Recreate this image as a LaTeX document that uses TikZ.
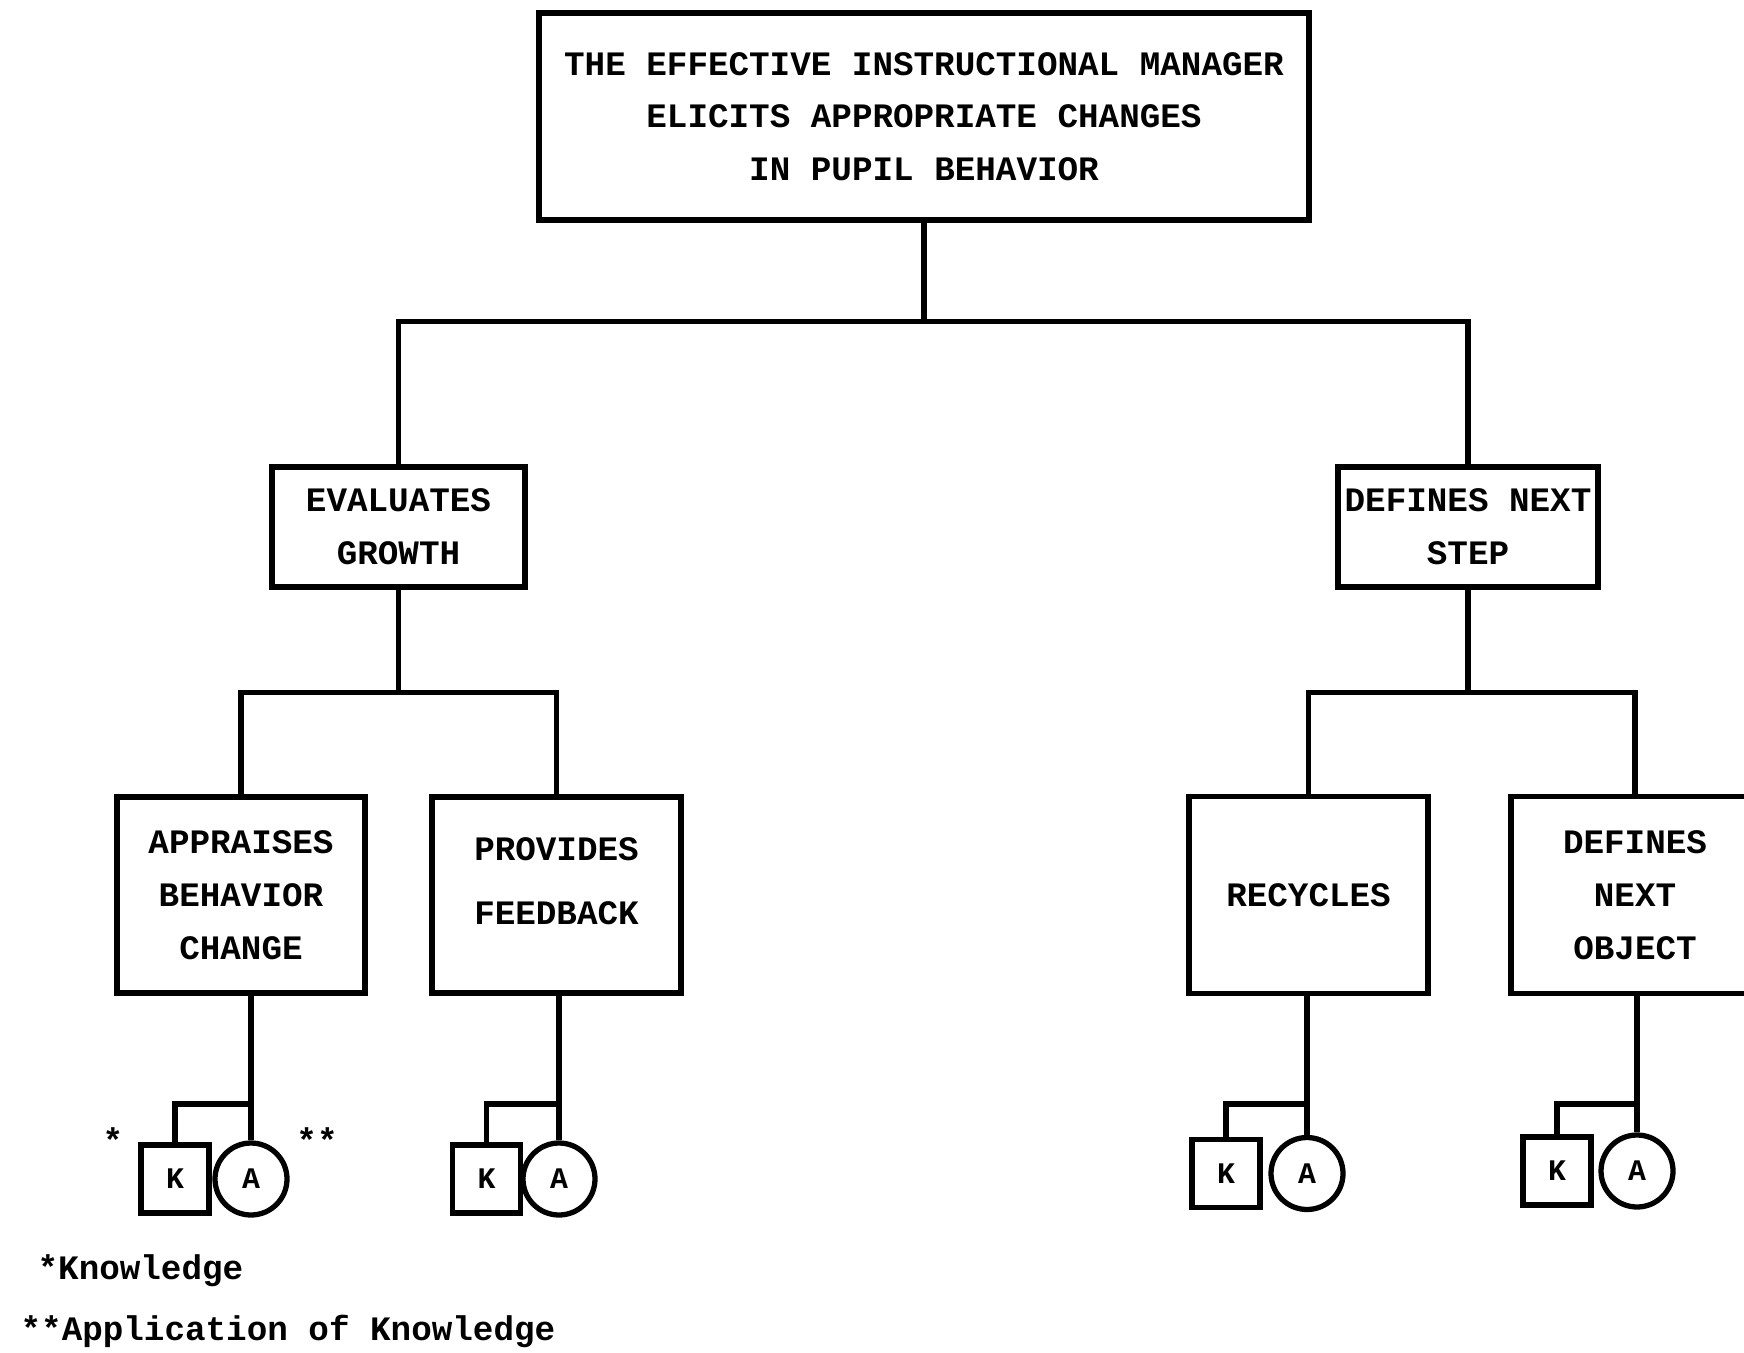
\documentclass[tikz,border=0pt]{standalone}
\usepackage{fontspec}
\setmonofont{Liberation Mono}
\tikzset{
  box/.style={draw,line width=3pt,align=center,inner sep=0pt,font=\ttfamily\bfseries\fontsize{19.5}{30}\selectfont},
  kbox/.style={draw,line width=3pt,inner sep=0pt,minimum size=1.36cm,font=\ttfamily\bfseries\fontsize{17}{20}\selectfont},
  abox/.style={draw,circle,line width=3pt,inner sep=0pt,minimum size=1.44cm,font=\ttfamily\bfseries\fontsize{17}{20}\selectfont},
  note/.style={font=\ttfamily\bfseries\fontsize{19.5}{24}\selectfont,inner sep=0pt}
}
\begin{document}
\begin{tikzpicture}[line width=3pt]
        \useasboundingbox (0,0) rectangle (34.88,-27.06);
        % boxes
        \node[box,minimum width=15.4cm,minimum height=4.14cm](top)at(18.48,-2.33){THE EFFECTIVE INSTRUCTIONAL MANAGER\\ELICITS APPROPRIATE CHANGES\\IN PUPIL BEHAVIOR};
        \node[box,minimum width=5.06cm,minimum height=2.4cm](evgr)at(7.97,-10.54){EVALUATES\\GROWTH};
        \node[box,minimum width=5.2cm,minimum height=2.4cm](dfst)at(29.36,-10.54){DEFINES NEXT\\STEP};
        \node[box,minimum width=4.96cm,minimum height=3.92cm](appr)at(4.82,-17.9){APPRAISES\\BEHAVIOR\\CHANGE};
        \node[box,minimum width=4.98cm,minimum height=3.92cm](prov)at(11.13,-17.9){PROVIDES\\[6pt]FEEDBACK\\[-14pt]\mbox{}};
        \node[box,minimum width=4.78cm,minimum height=3.94cm](recy)at(26.17,-17.9){RECYCLES};
        \node[box,minimum width=4.96cm,minimum height=3.94cm](dfob)at(32.7,-17.9){DEFINES\\NEXT\\OBJECT};
        % tree lines
        \draw(top.south)--++(0,-1.98)coordinate(bus1);
        \draw(evgr.north)|-(bus1)-|(dfst.north);
        \draw(evgr.south)--++(0,-2.06)coordinate(bus2);
        \draw(appr.north)|-(bus2)-|(prov.north);
        \draw(dfst.south)--++(0,-2.06)coordinate(bus3);
        \draw(recy.north)|-(bus3)-|(dfob.north);
        % K and A under each box
        \foreach \n/\p/\kx/\ax/\y in {1/appr/3.5/5.02/-23.58,2/prov/9.73/11.18/-23.58,3/recy/24.52/26.14/-23.47,4/dfob/31.14/32.74/-23.42}{
        \node[kbox](k\n)at(\kx,\y){K};
        \node[abox](a\n)at(\ax,\y){A};
        \draw(a\n.north)--(a\n.north|-\p.south);
        \draw(k\n.north)|-(a\n.north|-0,-22.08);
        }
        \node[note](st1)at(2.26,-22.8){*};
        \node[note](st2)at(6.34,-22.8){**};
        % legend
        \node[note,anchor=west](lg1)at(0.7,-25.42){*Knowledge};
        \node[note,anchor=west](lg2)at(0.36,-26.62){**Application of Knowledge};
    \end{tikzpicture}
\end{document}
